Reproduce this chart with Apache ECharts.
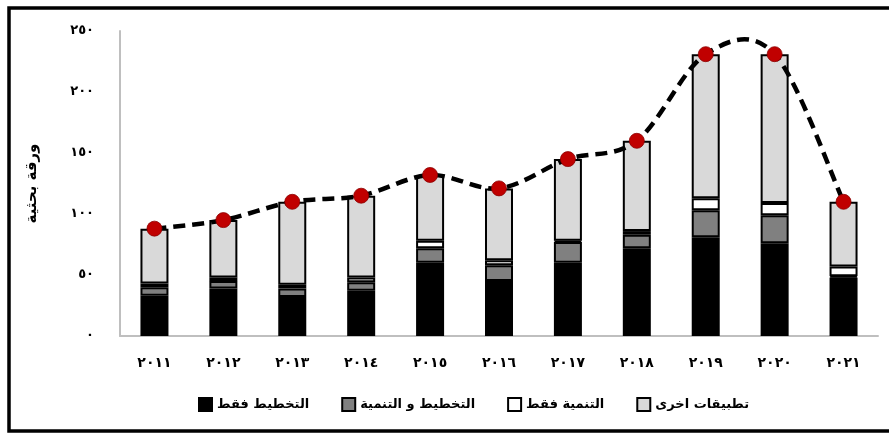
<!DOCTYPE html>
<html>
<head>
<meta charset="utf-8">
<script src="https://cdn.jsdelivr.net/npm/echarts@6/dist/echarts.min.js"></script>
<style>
html,body{margin:0;padding:0;background:#fff;}
#chart{width:889px;height:435px;}
</style>
</head>
<body>
<div id="chart"></div>
<script>
// Categories and tick labels
var years = ['2011','2012','2013','2014','2015','2016','2017','2018','2019','2020','2021'];
var yearLabels = ['٢٠١١','٢٠١٢','٢٠١٣','٢٠١٤','٢٠١٥','٢٠١٦','٢٠١٧','٢٠١٨','٢٠١٩','٢٠٢٠','٢٠٢١'];
var yTickLabels = ['٠','٥٠','١٠٠','١٥٠','٢٠٠','٢٥٠'];

// Series names
var nPlanOnly = 'التخطيط فقط';
var nPlanDev = 'التخطيط و التنمية';
var nDevOnly = 'التنمية فقط';
var nOther = 'تطبيقات اخرى';
var yName = 'ورقة بحثية';

// Series values
var planOnly = [33, 39, 32, 37, 60, 45, 60, 72, 81, 76, 48];
var planDev  = [7, 6, 7, 7, 12, 13, 17, 11, 22, 23, 1];
var devOnly  = [3, 3, 3, 4, 6, 4, 1, 3, 10, 10, 8];
var other    = [45, 47, 68, 67, 54, 59, 67, 74, 118, 122, 53];
var totals   = [88, 95, 110, 115, 132, 121, 145, 160, 231, 231, 110];

var FONT = 'DejaVu Sans';
var chart = echarts.init(document.getElementById('chart'), null, {renderer: 'canvas'});

function barSeries(name, data, color) {
  return {
    name: name, type: 'bar', stack: 'total', data: data,
    barWidth: 28,
    itemStyle: {color: color, borderColor: '#000', borderWidth: 2},
    emphasis: {disabled: true}
  };
}

// Smooth (Catmull-Rom style) dashed curve through totals, positioned by the axes
function renderCurve(params, api) {
  if (params.dataIndex !== 0) return null;
  var pts = totals.map(function (v, i) { return api.coord([i, v]); });
  var n = pts.length;
  var d = 'M' + pts[0][0] + ' ' + pts[0][1];
  for (var i = 0; i < n - 1; i++) {
    var p0 = pts[Math.max(i - 1, 0)], p1 = pts[i], p2 = pts[i + 1], p3 = pts[Math.min(i + 2, n - 1)];
    var c1x = p1[0] + (p2[0] - p0[0]) / 6, c1y = p1[1] + (p2[1] - p0[1]) / 6;
    var c2x = p2[0] - (p3[0] - p1[0]) / 6, c2y = p2[1] - (p3[1] - p1[1]) / 6;
    d += ' C' + c1x + ' ' + c1y + ' ' + c2x + ' ' + c2y + ' ' + p2[0] + ' ' + p2[1];
  }
  return {
    type: 'path',
    shape: {pathData: d},
    style: {fill: null, stroke: '#000', lineWidth: 4.5, lineDash: [12, 7]}
  };
}

var option = {
  animation: false,
  backgroundColor: '#fff',
  textStyle: {fontFamily: FONT},
  grid: {left: 120, right: 11, top: 31, bottom: 99, containLabel: false},
  legend: {
    data: [nPlanOnly, nPlanDev, nDevOnly, nOther],
    left: 193, top: 392,
    itemWidth: 13, itemHeight: 13, itemGap: 32,
    icon: 'rect',
    textStyle: {fontFamily: FONT, fontWeight: 'bold', fontSize: 13, color: '#000'}
  },
  xAxis: {
    type: 'category', data: years,
    axisLine: {show: true, lineStyle: {color: '#bfbfbf', width: 2}},
    axisTick: {show: false},
    axisLabel: {
      formatter: function (v, i) { return yearLabels[i]; },
      fontFamily: FONT, fontWeight: 'bold', fontSize: 14, color: '#000', margin: 20
    }
  },
  yAxis: {
    type: 'value', min: 0, max: 250, interval: 50,
    name: yName, nameLocation: 'middle', nameGap: 80, nameRotate: 90,
    nameTextStyle: {fontFamily: FONT, fontWeight: 'bold', fontSize: 15, color: '#000'},
    axisLine: {show: true, lineStyle: {color: '#bfbfbf', width: 2}},
    axisTick: {show: false},
    splitLine: {show: false},
    axisLabel: {
      formatter: function (v) { return yTickLabels[Math.round(v / 50)]; },
      fontFamily: FONT, fontWeight: 'bold', fontSize: 13, color: '#000', margin: 26
    }
  },
  series: [
    barSeries(nPlanOnly, planOnly, '#000000'),
    barSeries(nPlanDev, planDev, '#808080'),
    barSeries(nDevOnly, devOnly, '#ffffff'),
    barSeries(nOther, other, '#d9d9d9'),
    {
      name: 'curve', type: 'custom', data: totals, z: 5,
      renderItem: renderCurve, silent: true
    },
    {
      name: 'total', type: 'scatter', data: totals, z: 6,
      symbol: 'circle', symbolSize: 15,
      itemStyle: {color: '#c00000', opacity: 1, borderColor: '#8b0000', borderWidth: 0.8},
      emphasis: {disabled: true}
    }
  ],
  graphic: [{
    type: 'rect', z: 100,
    shape: {x: 9, y: 8, width: 900, height: 423},
    style: {fill: null, stroke: '#000', lineWidth: 3.5}
  }]
};
chart.setOption(option);
</script>
</body>
</html>
